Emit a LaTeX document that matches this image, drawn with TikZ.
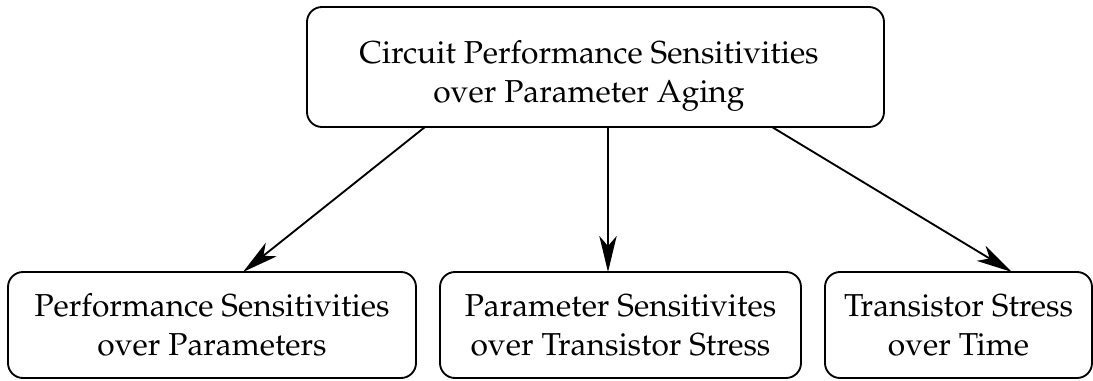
\documentclass[tikz,border=0pt]{standalone}
\usepackage[T1]{fontenc}
\usepackage{mathpazo}
\usetikzlibrary{arrows.meta,calc}
\newlength\pxu
\setlength\pxu{0.75pt}
\begin{document}
\begin{tikzpicture}[x=0.75pt, y=-0.75pt,
  txt/.style={align=center, inner sep=0pt, outer sep=0pt,
    font=\fontsize{23.8}{29.25}\selectfont},
  box/.style={txt, draw, line width=1.4pt, rounded corners=11.25pt},
  link/.style={line width=1.4pt,
    -{Stealth[length=27pt, width=13pt, inset=7.5pt]}}]
\path[use as bounding box] (0,0) rectangle (1093,380);

% root box, its two lines set a little low and left of centre
\node[box, minimum width=577\pxu, minimum height=120\pxu,
  label={[txt, xshift=-6.5\pxu, yshift=-8.5\pxu]center:Circuit Performance Sensitivities\\over Parameter Aging}]
  (root) at (595.5,67) {};

% three sub-analyses
\node[box, minimum width=408\pxu, minimum height=106\pxu] (perf) at (212,325)
  {Performance Sensitivities\\over Parameters};
\node[box, minimum width=361\pxu, minimum height=106\pxu] (param) at (620.5,325)
  {Parameter Sensitivites\\over Transistor Stress};
\node[box, minimum width=267\pxu, minimum height=106\pxu] (stress) at (958.5,325)
  {Transistor Stress\\over Time};

% connectors
\draw[link] ([xshift=-170.5\pxu]root.south) -- ([xshift=31\pxu]perf.north);
\draw[link] ([xshift=12.5\pxu]root.south) -- ([xshift=-12.5\pxu]param.north);
\draw[link] ([xshift=176.5\pxu]root.south) -- ([xshift=53.5\pxu]stress.north);
\end{tikzpicture}
\end{document}
